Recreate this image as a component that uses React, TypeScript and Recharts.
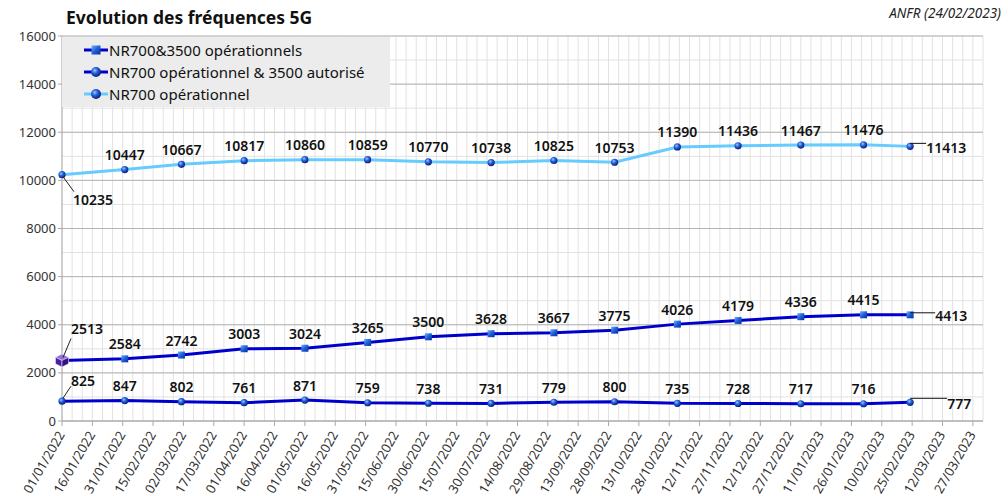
import React from 'react';
import { LineChart, Line, XAxis, YAxis, CartesianGrid, LabelList } from 'recharts';

const dates = [
  '01/01/2022', '01/02/2022', '01/03/2022', '01/04/2022', '01/05/2022', '01/06/2022', '01/07/2022',
  '01/08/2022', '01/09/2022', '01/10/2022', '01/11/2022', '01/12/2022', '01/01/2023', '01/02/2023', '24/02/2023',
];
const nr700Op = [10235, 10447, 10667, 10817, 10860, 10859, 10770, 10738, 10825, 10753, 11390, 11436, 11467, 11476, 11413];
const nr700And3500Op = [2513, 2584, 2742, 3003, 3024, 3265, 3500, 3628, 3667, 3775, 4026, 4179, 4336, 4415, 4413];
const nr700OpAnd3500Aut = [825, 847, 802, 761, 871, 759, 738, 731, 779, 800, 735, 728, 717, 716, 777];

const tickLabels = [
  '01/01/2022', '16/01/2022', '31/01/2022', '15/02/2022', '02/03/2022', '17/03/2022', '01/04/2022', '16/04/2022',
  '01/05/2022', '16/05/2022', '31/05/2022', '15/06/2022', '30/06/2022', '15/07/2022', '30/07/2022', '14/08/2022',
  '29/08/2022', '13/09/2022', '28/09/2022', '13/10/2022', '28/10/2022', '12/11/2022', '27/11/2022', '12/12/2022',
  '27/12/2022', '11/01/2023', '26/01/2023', '10/02/2023', '25/02/2023', '12/03/2023', '27/03/2023',
];
const yTicks = [0, 2000, 4000, 6000, 8000, 10000, 12000, 14000, 16000];

const DAY = 86400000;
const ORIGIN = Date.UTC(2022, 0, 1);
const toDay = (dmy: string) => {
  const [d, m, y] = dmy.split('/').map(Number);
  return Math.round((Date.UTC(y, m - 1, d) - ORIGIN) / DAY);
};
const dayToLabel: Record<number, string> = {};
tickLabels.forEach((t) => { dayToLabel[toDay(t)] = t; });
const tickDays = tickLabels.map(toDay);

const X_MAX = 455;
const minorX: number[] = [];
for (let d = 0; d <= X_MAX; d += 5) minorX.push(d);
const minorY: number[] = [];
for (let v = 0; v <= 16000; v += 1000) minorY.push(v);

const data = dates.map((d, i) => ({
  day: toDay(d),
  top: nr700Op[i],
  mid: nr700And3500Op[i],
  bot: nr700OpAnd3500Aut[i],
}));

const LAST = dates.length - 1;
const FONT = '"Noto Sans", sans-serif';

const Sphere = ({ cx, cy, r = 3.6 }: any) => <circle cx={cx} cy={cy} r={r} fill="url(#sphG)" />;
const Square = ({ cx, cy, s = 7 }: any) => (
  <rect x={cx - s / 2} y={cy - s / 2} width={s} height={s} fill="url(#sqG)" />
);
const Cube = ({ cx, cy }: any) => {
  const s = 6.5;
  const h = s / 2;
  return (
    <g>
      <polygon points={`${cx},${cy - s} ${cx + s},${cy - h} ${cx},${cy} ${cx - s},${cy - h}`} fill="#8f6fd8" stroke="#e8e0ff" strokeWidth={0.6} />
      <polygon points={`${cx - s},${cy - h} ${cx},${cy} ${cx},${cy + s} ${cx - s},${cy + h}`} fill="#4d1e9e" stroke="#e8e0ff" strokeWidth={0.6} />
      <polygon points={`${cx},${cy} ${cx + s},${cy - h} ${cx + s},${cy + h} ${cx},${cy + s}`} fill="#35107e" stroke="#e8e0ff" strokeWidth={0.6} />
    </g>
  );
};

const sphereDot = (props: any) => {
  const { cx, cy, index } = props;
  return <Sphere key={`s${index}`} cx={cx} cy={cy} />;
};
const squareDot = (props: any) => {
  const { cx, cy, index } = props;
  if (index === 0) return <Cube key={`c${index}`} cx={cx} cy={cy} />;
  return <Square key={`q${index}`} cx={cx} cy={cy} />;
};

const txt = { fontFamily: FONT, fontSize: 14, fill: '#111', fontWeight: 600 } as const;

const makeLabel = (series: 'top' | 'mid' | 'bot') => (props: any) => {
  const { x, y, value, index } = props;
  if (index === 0) {
    if (series === 'top') {
      return (
        <g>
          <line x1={x + 1} y1={y + 2} x2={x + 12} y2={y + 17} stroke="#222" strokeWidth={1} />
          <text x={x + 11} y={y + 25} dominantBaseline="central" {...txt}>{value}</text>
        </g>
      );
    }
    const up = series === 'mid' ? 22 : 15;
    const ty = series === 'mid' ? 32 : 21;
    return (
      <g>
        <line x1={x + 1} y1={y - 3} x2={x + 9} y2={y - up} stroke="#222" strokeWidth={1} />
        <text x={x + 9} y={y - ty} dominantBaseline="central" {...txt}>{value}</text>
      </g>
    );
  }
  if (index === LAST) {
    const len = series === 'top' ? 16 : series === 'mid' ? 25 : 37;
    const ly = series === 'top' ? -3 : series === 'mid' ? -2 : -4;
    return (
      <g>
        <line x1={x} y1={y + ly} x2={x + len} y2={y + ly} stroke="#111" strokeWidth={1} />
        <text x={x + len} y={y + 1} dominantBaseline="central" {...txt}>{value}</text>
      </g>
    );
  }
  return (
    <text x={x} y={y - 15} textAnchor="middle" dominantBaseline="central" {...txt}>{value}</text>
  );
};

const XTick = (props: any) => {
  const { x, y, payload } = props;
  const tx = x - 1;
  const ty = y + 4;
  return (
    <text
      x={tx}
      y={ty}
      transform={`rotate(-60 ${tx} ${ty})`}
      textAnchor="end"
      dominantBaseline="central"
      fontFamily={FONT}
      fontSize={13}
      fill="#333"
    >
      {dayToLabel[payload.value]}
    </text>
  );
};

const legendItems = [
  { label: 'NR700&3500 opérationnels', color: '#0000cc', marker: 'square' },
  { label: 'NR700 opérationnel & 3500 autorisé', color: '#0000cc', marker: 'sphere' },
  { label: 'NR700 opérationnel', color: '#66ccff', marker: 'sphere' },
];

export default function App() {
  return (
    <div style={{ position: 'absolute', left: 0, top: 0, width: 1008, height: 496, background: '#fff', fontFamily: FONT }}>
      <svg width={0} height={0} style={{ position: 'absolute' }}>
        <defs>
          <radialGradient id="sphG" cx="38%" cy="35%" r="65%">
            <stop offset="0%" stopColor="#9cc8ff" />
            <stop offset="45%" stopColor="#2462dc" />
            <stop offset="100%" stopColor="#0b1f78" />
          </radialGradient>
          <linearGradient id="sqG" x1="0" y1="0" x2="1" y2="1">
            <stop offset="0%" stopColor="#6fb0ff" />
            <stop offset="50%" stopColor="#1b5fd8" />
            <stop offset="100%" stopColor="#0b2c96" />
          </linearGradient>
        </defs>
      </svg>
      <div style={{ position: 'absolute', left: 66, top: 6, fontSize: 17.5, fontWeight: 700, color: '#111', lineHeight: '22px', whiteSpace: 'nowrap' }}>
        Evolution des fréquences 5G
      </div>
      <div style={{ position: 'absolute', right: 7, top: 3, fontSize: 13.5, fontStyle: 'italic', color: '#222', lineHeight: '20px', whiteSpace: 'nowrap' }}>
        ANFR (24/02/2023)
      </div>
      <LineChart width={1008} height={496} data={data} margin={{ top: 36, right: 25, left: 12, bottom: 0 }}>
        <CartesianGrid stroke="#e2e2e2" strokeWidth={1} verticalValues={minorX} horizontalValues={minorY} />
        <CartesianGrid stroke="#b4b4b4" strokeWidth={1} vertical={false} horizontalValues={yTicks} />
        <XAxis
          type="number"
          dataKey="day"
          domain={[0, X_MAX]}
          ticks={tickDays}
          interval={0}
          tick={<XTick />}
          height={75}
          tickSize={5}
          axisLine={{ stroke: '#aaaaaa' }}
          tickLine={{ stroke: '#aaaaaa' }}
        />
        <YAxis
          type="number"
          domain={[0, 16000]}
          ticks={yTicks}
          interval={0}
          width={50}
          tickSize={4}
          tickMargin={2}
          axisLine={{ stroke: '#aaaaaa' }}
          tickLine={{ stroke: '#aaaaaa' }}
          tick={{ fontFamily: FONT, fontSize: 13, fill: '#333' }}
        />
        <Line dataKey="top" stroke="#66ccff" strokeWidth={3} dot={sphereDot} activeDot={false} isAnimationActive={false}>
          <LabelList dataKey="top" content={makeLabel('top')} />
        </Line>
        <Line dataKey="bot" stroke="#0000cc" strokeWidth={3} dot={sphereDot} activeDot={false} isAnimationActive={false}>
          <LabelList dataKey="bot" content={makeLabel('bot')} />
        </Line>
        <Line dataKey="mid" stroke="#0000cc" strokeWidth={3} dot={squareDot} activeDot={false} isAnimationActive={false}>
          <LabelList dataKey="mid" content={makeLabel('mid')} />
        </Line>
      </LineChart>
      <div style={{ position: 'absolute', left: 62, top: 37, width: 328, height: 70, background: '#ececec' }}>
        {legendItems.map((it, i) => (
          <div key={it.label} style={{ position: 'absolute', left: 22, top: 2 + i * 22, height: 22, display: 'flex', alignItems: 'center', whiteSpace: 'nowrap' }}>
            <svg width={24} height={14} style={{ display: 'block' }}>
              <line x1={0} y1={7} x2={24} y2={7} stroke={it.color} strokeWidth={3} />
              {it.marker === 'square' ? <Square cx={12} cy={7} s={9} /> : <Sphere cx={12} cy={7} r={5} />}
            </svg>
            <span style={{ fontSize: 15, color: '#111', marginLeft: 1 }}>{it.label}</span>
          </div>
        ))}
      </div>
    </div>
  );
}
